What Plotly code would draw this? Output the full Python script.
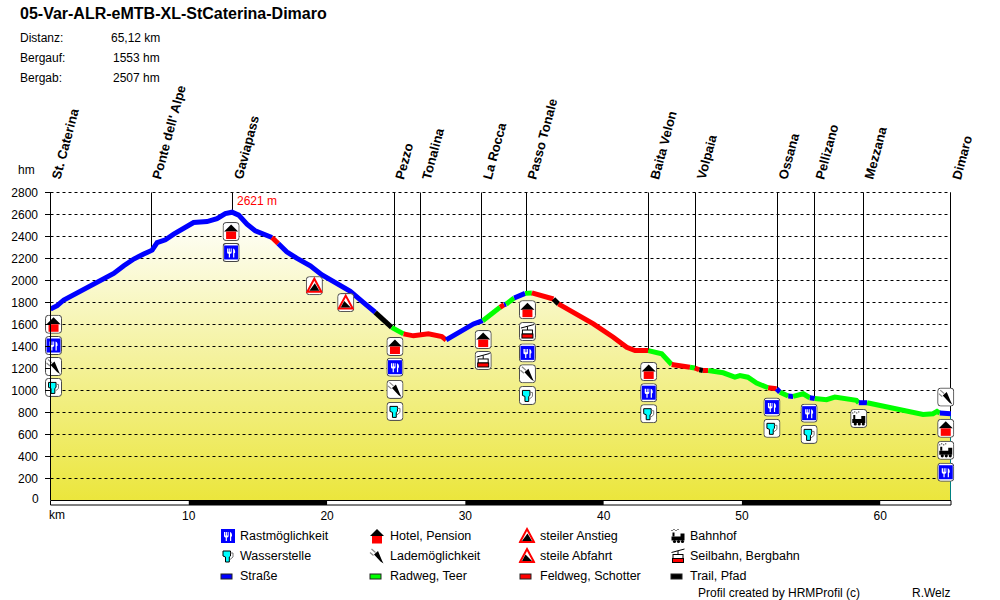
import base64
import plotly.graph_objects as go

TITLE = "05-Var-ALR-eMTB-XL-StCaterina-Dimaro"
STAT_LABELS = ["Distanz:", "Bergauf:", "Bergab:"]
STAT_VALUES = ["65,12 km", "1553 hm", "2507 hm"]

KM_MAX = 65.12
HM_MAX = 2800
Y_TICKS = [0, 200, 400, 600, 800, 1000, 1200, 1400, 1600, 1800, 2000, 2200, 2400, 2600, 2800]
X_TICKS = [10, 20, 30, 40, 50, 60]
SCALE_BLACK = [(10, 20), (30, 40), (50, 60)]

KM = [0, .48, .96, 1.57, 2.41, 3.37, 4.57, 5.30, 6.02, 6.74, 7.35, 7.71, 8.31, 8.91, 9.63, 10.35, 11.32,
      12.04, 12.64, 13.13, 13.61, 14.21, 14.81, 15.66, 16.02, 16.47, 17.08, 17.80, 18.79, 19.61, 20.95,
      21.68, 22.62, 23.48, 24.67, 25.53, 26.25, 27.33, 28.30, 28.61, 29.39, 30.59, 31.26, 32.51, 32.80,
      32.95, 33.53, 34.32, 34.81, 36.37, 36.73, 37.79, 39.26, 40.70, 41.67, 42.27, 43.23, 44.20, 44.92,
      46.24, 46.60, 46.92, 47.18, 47.56, 48.65, 49.49, 49.86, 50.43, 51.06, 51.90, 52.51, 52.75, 53.35,
      53.70, 54.43, 54.91, 55.27, 56.12, 56.72, 58.28, 58.45, 59.05, 59.97, 61.42, 63.10, 63.82, 64.11,
      64.31, 65.12]
ELEV = [1740, 1771, 1823, 1862, 1923, 1989, 2064, 2134, 2195, 2240, 2276, 2345, 2370, 2421, 2476, 2527, 2536,
        2563, 2608, 2621, 2594, 2512, 2451, 2415, 2391, 2336, 2261, 2204, 2134, 2053, 1962,
        1901, 1801, 1711, 1574, 1515, 1497, 1515, 1490, 1460, 1515, 1605, 1635, 1756, 1780,
        1785, 1841, 1883, 1887, 1832, 1787, 1711, 1605, 1484, 1393, 1363, 1363, 1333, 1236,
        1212, 1205, 1188, 1182, 1182, 1161, 1121, 1136, 1121, 1067, 1025, 1016, 985, 949,
        946, 970, 934, 928, 916, 940, 910, 889, 889, 864, 828, 783, 789, 810,
        795, 789]

# surface sections: (first km, last km, surface)
SECTIONS = [
    (0, 16.02, "road"), (16.02, 16.47, "gravel"), (16.47, 23.48, "road"), (23.48, 24.67, "trail"),
    (24.67, 25.53, "cycle"), (25.53, 28.61, "gravel"), (28.61, 31.26, "road"), (31.26, 32.51, "cycle"),
    (32.51, 32.80, "gravel"), (32.80, 32.95, "road"), (32.95, 33.53, "cycle"), (33.53, 34.32, "road"),
    (34.32, 34.81, "cycle"), (34.81, 36.37, "gravel"), (36.37, 36.73, "trail"), (36.73, 43.23, "gravel"),
    (43.23, 44.92, "cycle"), (44.92, 46.24, "gravel"), (46.24, 46.60, "cycle"), (46.60, 46.92, "gravel"),
    (46.92, 47.18, "trail"), (47.18, 47.56, "gravel"), (47.56, 51.90, "cycle"), (51.90, 52.51, "gravel"),
    (52.51, 52.75, "road"), (52.75, 53.35, "cycle"), (53.35, 53.70, "road"), (53.70, 54.91, "cycle"),
    (54.91, 55.27, "road"), (55.27, 58.45, "cycle"), (58.45, 59.05, "road"), (59.05, 64.31, "cycle"),
    (64.31, 65.12, "road"),
]
SURFACE_COLOR = {"road": "#0000ff", "cycle": "#00ff00", "gravel": "#ff0000", "trail": "#000000"}

WAY_NAMES = ["St. Caterina", "Ponte dell' Alpe", "Gaviapass", "Pezzo", "Tonalina", "La Rocca", "Passo Tonale",
             "Baita Velon", "Volpaia", "Ossana", "Pellizano", "Mezzana", "Dimaro"]
WAY_KM = [0.0, 7.304, 13.161, 24.877, 26.757, 31.168, 34.422, 43.245, 46.644, 52.573, 55.249, 58.793, 65.084]
WAY_ELEV = [1745, 2276, 2620, 1560, 1510, 1630, 1880, 1363, 1205, 1018, 930, 890, 790]

ICON_KM = [.22, .22, .22, .22, 13.06, 13.06, 19.08, 21.35, 24.91, 24.91, 24.91, 24.91, 31.29, 31.29,
           34.49, 34.49, 34.49, 34.49, 34.49, 43.26, 43.26, 43.26, 52.17, 52.17, 54.86, 54.86, 58.45,
           64.74, 64.74, 64.74, 64.74]
ICON_ELEV = [1602, 1409, 1218, 1028, 2445, 2255, 1953, 1799, 1400, 1212, 1010, 810, 1463, 1273,
             1735, 1536, 1342, 1152, 955, 1173, 980, 789, 849, 656, 794, 601, 746,
             940, 656, 456, 257]
ICON_KIND = ["hotel", "food", "plug", "water", "hotel", "food", "up", "down", "hotel", "food", "plug", "water",
             "hotel", "cable", "hotel", "cable", "food", "plug", "water", "hotel", "food", "water", "food", "water",
             "food", "water", "train", "plug", "hotel", "train", "food"]

LEGEND_COLS = [
    [("food", "Rastmöglichkeit"), ("water", "Wasserstelle"), ("road", "Straße")],
    [("hotel", "Hotel, Pension"), ("plug", "Lademöglichkeit"), ("cycle", "Radweg, Teer")],
    [("up", "steiler Anstieg"), ("down", "steile Abfahrt"), ("gravel", "Feldweg, Schotter")],
    [("train", "Bahnhof"), ("cable", "Seilbahn, Bergbahn"), ("trail", "Trail, Pfad")],
]

# ------------------------------------------------------------------ layout
L, R, T, B = 50, 951, 192, 500
FONT = "Liberation Sans, Arial, sans-serif"
W, H = R - L, B - T
PX_KM = 900.5 / KM_MAX
PX_HM = 0.11
# half-pixel offsets in the ranges put the 1px marks on whole pixel rows and columns
X_RANGE = [-0.5 / PX_KM, KM_MAX]
Y_RANGE = [0.5 / PX_HM, HM_MAX + 0.5 / PX_HM]


def px(x):
    return (x - L) / W


def py(y):
    return (B - y) / H


def km_paper(k):
    return (k - X_RANGE[0]) / (X_RANGE[1] - X_RANGE[0])


def hm_paper(e):
    return (e - Y_RANGE[0]) / (Y_RANGE[1] - Y_RANGE[0])


GLYPHS = {
    "food": '<rect x="1.5" y="2.5" width="14" height="14" fill="#0000ff"/>'
            '<path d="M4.5 5.5v4a1.4 1.4 0 0 0 1.4 1.4h.3V14.5h1.2v-3.6h.3a1.4 1.4 0 0 0 1.4-1.4v-4h-.9v3.4h-.7V5.5h-.9v3.4h-.7V5.5z'
            'M10.5 5.5c1.6.3 2.2 2 2 4.2l-.8.6v4.2h-1.2z" fill="#fff"/>',
    "hotel": '<path d="M1.5 9.5l7-7 7 7z" fill="#000"/><rect x="3.5" y="9.5" width="10" height="7.5" fill="#f00"/>',
    "water": '<path d="M3.5 4.5h7.5v5l-1.2 1v5H6v-5l-2.5-1z" fill="#00ffff" stroke="#000" stroke-width="1"/>'
             '<path d="M11 6.5h2.5v4l-3 2.5" fill="none" stroke="#777" stroke-width="1"/>',
    "plug": '<path d="M5.5 8L9.5 4.5l4 9.5 1.5 3-3-2z" fill="#000"/>'
            '<path d="M3 2.5l4 3.5M1.5 6L5 9" stroke="#888" stroke-width="1.2"/>',
    "up": '<path d="M8.5 2.5L15.5 15.5H1.5z" fill="#fff" stroke="#f00" stroke-width="2"/>'
          '<path d="M3.5 14.5L9 7l4.5 7.5z" fill="#000"/>',
    "down": '<path d="M8.5 2.5L15.5 15.5H1.5z" fill="#fff" stroke="#f00" stroke-width="2"/>'
            '<path d="M3.5 14.5L7 8l6.5 6.5z" fill="#000"/>',
    "train": '<path d="M2 10h9V7h4v7H2z" fill="#000"/><circle cx="5" cy="15" r="1.6" fill="#000"/>'
             '<circle cx="9" cy="15" r="1.6" fill="#000"/><circle cx="13" cy="15" r="1.6" fill="#000"/>'
             '<path d="M3 6h2v4H3z" fill="#000"/><path d="M2 4h1M4 3h1M6 4h1M8 3h1" stroke="#000" stroke-width="1"/>',
    "cable": '<path d="M2 6L15 2.5M8.5 4.5V8" stroke="#000" stroke-width="1" fill="none"/>'
             '<rect x="3.5" y="8" width="10" height="4" fill="#fff" stroke="#000"/>'
             '<rect x="3" y="12" width="11" height="4" fill="#f00" stroke="#000"/>',
}
for key, colour in SURFACE_COLOR.items():
    GLYPHS[key] = f'<rect x="1.5" y="7.5" width="11" height="5" fill="{colour}" stroke="#222"/>'


def icon(kind, boxed):
    box = '<rect x=".5" y=".5" width="16" height="18" rx="3" fill="#fff" stroke="#444"/>' if boxed else ""
    svg = ('<svg xmlns="http://www.w3.org/2000/svg" width="17" height="19" viewBox="0 0 17 19">'
           + box + GLYPHS[kind] + "</svg>")
    return "data:image/svg+xml;base64," + base64.b64encode(svg.encode()).decode()


fig = go.Figure()

# gradient area under the profile
fig.add_trace(go.Scatter(
    x=KM, y=ELEV, mode="lines", line=dict(width=0), fill="tozeroy", hoverinfo="skip",
    fillgradient=dict(type="vertical", start=0, stop=2621,
                      colorscale=[[0, "#ebe63c"], [0.5, "#f4f29e"], [1, "#ffffff"]]),
    showlegend=False))

# dashed grid over the fill
grid_x, grid_y = [], []
for v in Y_TICKS[1:]:
    grid_x += [0, KM_MAX, None]
    grid_y += [v, v, None]
fig.add_trace(go.Scatter(x=grid_x, y=grid_y, mode="lines", hoverinfo="skip", showlegend=False,
                         line=dict(color="#000", width=1, dash="3px,3px")))

# waypoint stems
stem_x, stem_y = [], []
for k, e in zip(WAY_KM, WAY_ELEV):
    stem_x += [k, k, None]
    stem_y += [e, HM_MAX, None]
fig.add_trace(go.Scatter(x=stem_x, y=stem_y, mode="lines", hoverinfo="skip", showlegend=False, cliponaxis=False,
                         line=dict(color="#000", width=1)))

# closing edge of the area at the end of the tour
fig.add_trace(go.Scatter(x=[WAY_KM[-1], WAY_KM[-1]], y=[0, WAY_ELEV[-1]], mode="lines", hoverinfo="skip",
                         showlegend=False, cliponaxis=False, line=dict(color="#008080", width=1)))

# profile, one trace per surface section
for start, stop, surface in SECTIONS:
    xs = [k for k in KM if start <= k <= stop]
    ys = [e for k, e in zip(KM, ELEV) if start <= k <= stop]
    fig.add_trace(go.Scatter(x=xs, y=ys, mode="lines", showlegend=False, cliponaxis=False, name=surface,
                             line=dict(color=SURFACE_COLOR[surface], width=5, shape="linear")))

images = []
for k, e, kind in zip(ICON_KM, ICON_ELEV, ICON_KIND):
    images.append(dict(source=icon(kind, True), xref="paper", yref="paper", x=km_paper(k), y=hm_paper(e),
                       sizex=17 / W, sizey=19 / H, xanchor="center", yanchor="middle", sizing="stretch",
                       layer="above"))

LEG_ICON_X = [228, 377, 527, 678]
LEG_TEXT_X = [240, 390, 540, 690]
LEG_Y = [536, 556, 576]
annotations = []


def text(x, y, s, size=12, bold=False, color="#000", xanchor="left"):
    annotations.append(dict(xref="paper", yref="paper", x=px(x), y=py(y), text=f"<b>{s}</b>" if bold else s,
                            showarrow=False, xanchor=xanchor, yanchor="middle", borderpad=0, borderwidth=0,
                            font=dict(family=FONT, size=size, color=color)))


for c, col in enumerate(LEGEND_COLS):
    for r, (kind, label) in enumerate(col):
        images.append(dict(source=icon(kind, False), xref="paper", yref="paper", x=px(LEG_ICON_X[c]), y=py(LEG_Y[r]),
                           sizex=17 / W, sizey=19 / H, xanchor="center", yanchor="middle",
                           sizing="stretch", layer="above"))
        text(LEG_TEXT_X[c], LEG_Y[r], label, size=12.5)

text(19.5, 13.5, TITLE, size=16, bold=True)
for lab, val, y in zip(STAT_LABELS, STAT_VALUES, [38, 58, 78]):
    text(19.5, y, lab)
    text(160, y, val, xanchor="right")
text(18, 170, "hm")
text(49, 515, "km")
text(39, 499, str(Y_TICKS[0]), xanchor="right")
text(237, 201, "2621 m", color="#ff0000")
text(698, 593, "Profil created by HRMProfil (c)")
text(912, 593, "R.Welz")

for name, k in zip(WAY_NAMES, WAY_KM):
    annotations.append(dict(xref="x", yref="paper", x=k, y=py(182), text=f"<b>{name}</b>", showarrow=False,
                            textangle=-75, xanchor="left", yanchor="bottom", xshift=-3, borderpad=0,
                            font=dict(family=FONT, size=13, color="#000")))

# left axis, its tick marks (none at zero, where the scale bar sits) and the km scale bar
shapes = [dict(type="line", xref="x", yref="paper", x0=0, x1=0, y0=0, y1=1, line=dict(color="#000", width=1),
               layer="above"),
          dict(type="rect", xref="paper", yref="paper", x0=km_paper(0), x1=1, y0=py(505), y1=py(500.5),
               fillcolor="#fff", line=dict(color="#000", width=1), layer="above")]
for v in Y_TICKS[1:]:
    shapes.append(dict(type="line", xref="paper", yref="y", x0=px(45), x1=px(50.5), y0=v, y1=v,
                       line=dict(color="#000", width=1), layer="above"))
for a, b in SCALE_BLACK:
    shapes.append(dict(type="rect", xref="x", yref="paper", x0=a, x1=b, y0=py(505), y1=py(500.5),
                       fillcolor="#000", line=dict(width=0), layer="above"))

fig.update_layout(
    width=1000, height=600, autosize=False, paper_bgcolor="#fff", plot_bgcolor="#fff", showlegend=False,
    margin=dict(l=L, r=1000 - R, t=T, b=600 - B, pad=0, autoexpand=False),
    font=dict(family=FONT, size=12, color="#000"),
    xaxis=dict(range=X_RANGE, tickvals=X_TICKS, ticks="", showgrid=False, zeroline=False, showline=False,
               automargin=False, ticklabelstandoff=7, tickfont=dict(family=FONT, size=12)),
    yaxis=dict(range=Y_RANGE, tickvals=Y_TICKS[1:], ticks="", showgrid=False, zeroline=False, showline=False,
               automargin=False, ticklabelstandoff=11, tickfont=dict(family=FONT, size=12)),
    images=images, annotations=annotations, shapes=shapes,
)

fig.write_html("out.html", post_script="document.body.style.margin='0';", config=dict(displayModeBar=False))
